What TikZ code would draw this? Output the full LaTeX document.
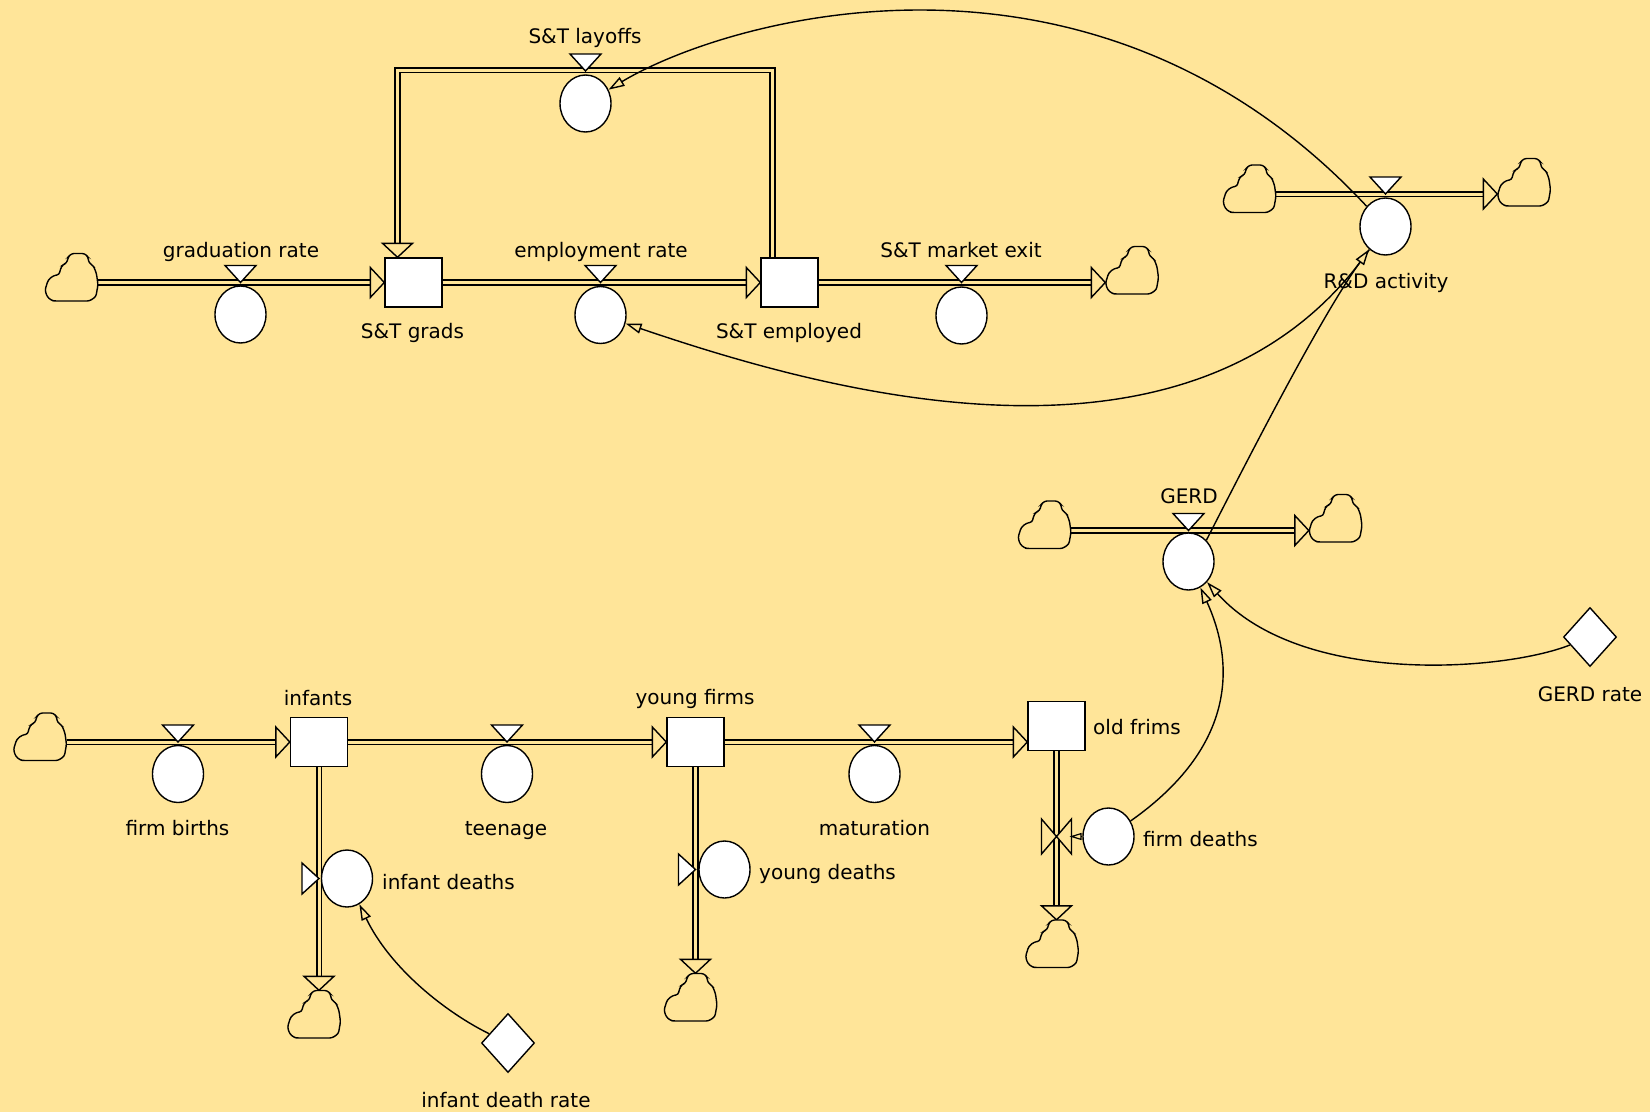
\documentclass[tikz,border=0pt]{standalone}
\usepackage{fontspec}
\setmainfont{DejaVu Sans}
\usetikzlibrary{shapes.geometric,arrows.meta,calc}
\definecolor{bg}{HTML}{FFE599}
\begin{document}
\begin{tikzpicture}[x=1pt,y=-1pt,
  every node/.style={font=\fontsize{20}{24}\selectfont, text=black},
  stockbox/.style={draw, fill=white, line width=1.4pt, minimum width=57pt, minimum height=49pt, inner sep=0pt},
  auxvar/.style={ellipse, draw, fill=white, line width=1.4pt, minimum width=51pt, minimum height=57pt, inner sep=0pt},
  constbox/.style={diamond, draw, fill=white, line width=1.4pt, minimum width=53pt, minimum height=59pt, inner sep=0pt},
  cloudbox/.style={minimum width=53pt, minimum height=48pt, inner sep=0pt},
  lbl/.style={inner sep=0pt, anchor=base},
  lbll/.style={inner sep=0pt, anchor=base west},
  flowline/.style={draw=black, line width=1.6pt, double=bg, double distance=3pt, line join=miter},
  infolink/.style={line width=1.4pt, -{Triangle[length=16pt,width=10pt,fill=bg]}},
  smalllink/.style={line width=1.2pt, -{Triangle[length=12pt,width=7pt,fill=bg]}},
  vcloud/.pic={\draw[line width=1.4pt, rounded corners=2.5pt, fill=bg]
     (-16.9,23.5) -- (18,23.5) -- (24.4,19.2) -- (26.5,7.2) -- (24.9,-4.3) -- (21.7,-12) -- (17.5,-14.4)
     -- (16.4,-20.6) -- (13.25,-24) -- (0,-24) -- (-3.2,-20.6) -- (-4.8,-14.4) -- (-8.5,-13) -- (-11.1,-8.6)
     -- (-12.2,-2.9) -- (-18,-1.9) -- (-23.3,2.4) -- (-26.5,12.5) -- (-24.4,19.2) -- (-19.9,23) -- cycle;},
  fhead/.pic={\draw[line width=1.4pt, fill=bg, line join=miter] (0,0) -- (-14,-15) -- (-14,15) -- cycle;},
  vtri/.pic={\draw[line width=1.4pt, fill=white, line join=miter] (0,0) -- (-15.5,-17) -- (15.5,-17) -- cycle;},
  bowtie/.pic={\draw[line width=1.4pt, fill=bg, line join=miter] (0,0) -- (-15,-17.5) -- (-15,17.5) -- cycle (0,0) -- (15,-17.5) -- (15,17.5) -- cycle;}
]
\fill[bg] (0,0) rectangle (1650,1112);
\useasboundingbox (0,0) rectangle (1650,1112);

% ---------- nodes (top) ----------
\node[cloudbox] (cA) at (71.5,277.5) {};
\node[stockbox] (sg) at (413.5,282.5) {};
\node[stockbox] (se) at (789.5,282.5) {};
\node[cloudbox] (cB) at (1132,270.5) {};
\coordinate (laytop) at (585.5,70);
\coordinate (rdflow) at (1385.5,194);
\node[cloudbox] (cC) at (1249.5,189) {};
\node[cloudbox] (cD) at (1524,182.5) {};
\coordinate (gflow) at (1188.5,530.5);
\node[cloudbox] (cE) at (1044.5,525) {};
\node[cloudbox] (cF) at (1335.5,518.5) {};

% ---------- nodes (bottom) ----------
\node[cloudbox] (cG) at (40,737) {};
\node[stockbox] (inf) at (319,742) {};
\node[stockbox] (yf) at (695.5,742) {};
\node[stockbox] (old) at (1056.5,726) {};
\node[cloudbox] (cH) at (314,1014.5) {};
\node[cloudbox] (cI) at (690.5,997.5) {};
\node[cloudbox] (cJ) at (1052,944) {};

% ---------- flows ----------
\draw[flowline, shorten >=13pt] (cA.east |- sg) -- (sg.west);
\draw[flowline, shorten >=13pt] (sg.east) -- (se.west);
\draw[flowline, shorten >=13pt] (se.east) -- (cB.west |- se);
\draw[flowline, shorten >=13pt] ([xshift=-17pt]se.north) |- (laytop) -| ([xshift=-16pt]sg.north);
\draw[flowline, shorten >=13pt] (cC.east |- rdflow) -- (cD.west |- rdflow);
\draw[flowline, shorten >=13pt] (cE.east |- gflow) -- (cF.west |- gflow);
\draw[flowline, shorten >=13pt] (cG.east |- inf) -- (inf.west);
\draw[flowline, shorten >=13pt] (inf.east) -- (yf.west);
\draw[flowline, shorten >=13pt] (yf.east) -- (old.west |- inf);
\draw[flowline, shorten >=13pt] (inf.south) -- (cH.north -| inf);
\draw[flowline, shorten >=13pt] (yf.south) -- (cI.north -| yf);
\draw[flowline, shorten >=13pt] (old.south) -- (cJ.north -| old);

% flow arrowheads
\pic at (sg.west) {fhead};
\pic at (se.west) {fhead};
\pic at (cB.west |- se) {fhead};
\pic[rotate=-90] at ([xshift=-16pt]sg.north) {fhead};
\pic at (cD.west |- rdflow) {fhead};
\pic at (cF.west |- gflow) {fhead};
\pic at (inf.west) {fhead};
\pic at (yf.west) {fhead};
\pic at (old.west |- inf) {fhead};
\pic[rotate=-90] at (cH.north -| inf) {fhead};
\pic[rotate=-90] at (cI.north -| yf) {fhead};
\pic[rotate=-90] at (cJ.north -| old) {fhead};

% clouds
\foreach \c in {cA,cB,cC,cD,cE,cF,cG,cH,cI,cJ} { \pic at (\c) {vcloud}; }

% ---------- valves ----------
\node[auxvar] (grv) at (240.5,314.5) {};
\node[auxvar] (erv) at (600.5,315) {};
\node[auxvar] (mev) at (961.5,315.5) {};
\node[auxvar] (layv) at (585.5,103.5) {};
\node[auxvar] (rdv) at (1385.5,226.5) {};
\node[auxvar] (gerdv) at (1188.5,561.5) {};
\node[constbox] (gerdrate) at (1590,637) {};
\node[auxvar] (fbv) at (178,774) {};
\node[auxvar] (tnv) at (507,774) {};
\node[auxvar] (matv) at (874.5,774) {};
\node[auxvar] (idv) at (347,878.5) {};
\node[auxvar] (ydv) at (724.5,869.5) {};
\node[auxvar] (fdv) at (1108.5,836.5) {};
\node[constbox] (idr) at (508,1043) {};
\coordinate (bow) at (old |- fdv);
\coordinate (bowE) at ([xshift=13pt]bow);

\pic at (grv |- sg) {vtri};
\pic at (erv |- sg) {vtri};
\pic at (mev |- sg) {vtri};
\pic at ([yshift=-1pt]laytop) {vtri};
\pic at (rdflow) {vtri};
\pic at (gflow) {vtri};
\pic at (fbv |- inf) {vtri};
\pic at (tnv |- inf) {vtri};
\pic at (matv |- inf) {vtri};
\pic[rotate=90] at (inf |- idv) {vtri};
\pic[rotate=90] at (yf |- ydv) {vtri};
\pic at (bow) {bowtie};

% ---------- information links ----------
\draw[infolink] (rdv) .. controls (1093,-87) and (728,18) .. (layv);
\draw[infolink] (rdv) .. controls (1193,502) and (810,386) .. (erv);
\draw[infolink] (gerdv.50) .. controls (1250,455) and (1320,318) .. (rdv);
\draw[infolink] (gerdrate) .. controls (1504.5,671) and (1301.5,687) .. (gerdv);
\draw[infolink] (fdv) .. controls (1243.6,741.3) and (1231,654.6) .. (gerdv);
\draw[infolink] (idr) .. controls (445,1012) and (390,968) .. (idv);
\draw[smalllink] (fdv.west) -- (bowE);

% ---------- labels ----------
\node[lbl] (lgr) at (241,257.5) {graduation rate};
\node[lbl] (ler) at (601,257.5) {employment rate};
\node[lbl] (lme) at (961,257) {S\&T market exit};
\node[lbl] (lsg) at (412.5,338.3) {S\&T grads};
\node[lbl] (lse) at (789,338.3) {S\&T employed};
\node[lbl] (llay) at (585,43.5) {S\&T layoffs};
\node[lbl] (lrd) at (1386,288.3) {R\&D activity};
\node[lbl] (lgerd) at (1189,503.3) {GERD};
\node[lbl] (lgerdr) at (1590,701.7) {GERD rate};
\node[lbl] (linf) at (318,705) {infants};
\node[lbl] (lyf) at (695,704.3) {young firms};
\node[lbl] (lfb) at (177.5,835.7) {firm births};
\node[lbl] (ltn) at (506,835.3) {teenage};
\node[lbl] (lmat) at (874.5,835.3) {maturation};
\node[lbll] (lold) at (1093,734.3) {old frims};
\node[lbll] (lfd) at (1143,846) {firm deaths};
\node[lbll] (lid) at (382,889.3) {infant deaths};
\node[lbll] (lyd) at (759,879.3) {young deaths};
\node[lbl] (lidr) at (506,1107) {infant death rate};
\end{tikzpicture}
\end{document}
